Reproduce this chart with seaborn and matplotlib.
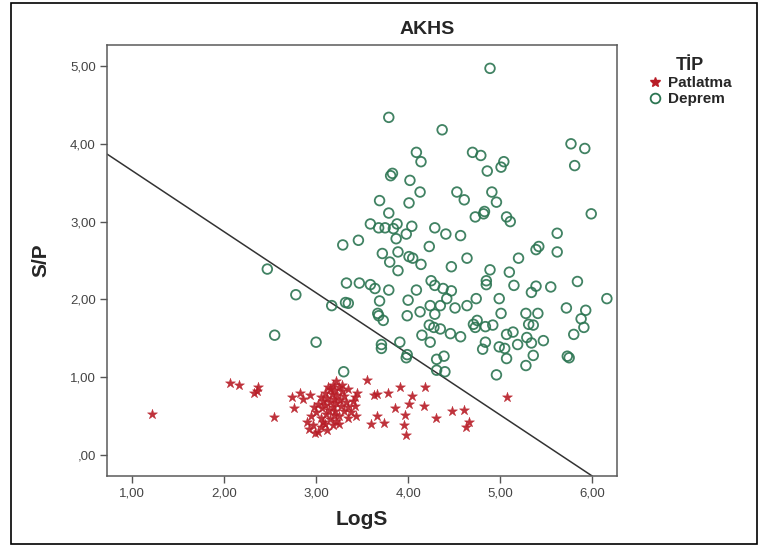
import matplotlib
matplotlib.use("Agg")
import matplotlib.pyplot as plt
from matplotlib.lines import Line2D
from matplotlib.patches import Rectangle
import seaborn as sns
import pandas as pd

# ---------------- data ----------------
deprem_x = [4.89, 3.79, 4.37, 4.09, 4.14, 4.70, 4.79, 5.04, 5.01, 4.86, 5.77, 5.92, 5.81,
            3.81, 3.83, 4.02, 4.13, 3.69, 4.01, 3.79, 4.53, 4.61, 4.91, 4.96, 4.83, 4.82,
            4.73, 5.07, 5.11, 5.99,
            3.59, 3.68, 3.75, 3.88, 3.84, 4.04, 4.29, 4.41, 4.57, 5.62, 3.87, 3.98, 3.29,
            3.46, 4.23, 5.39, 5.42, 5.62, 3.72, 3.89, 4.01, 4.05, 4.64, 3.80, 4.14, 3.89,
            4.47, 5.20, 4.89, 5.10, 2.47, 2.78, 3.17, 3.33, 3.47, 3.59, 3.64, 3.79, 3.32,
            3.35, 3.69, 3.67, 3.68, 3.73, 3.99, 4.00, 4.09, 4.25, 4.29, 4.38, 4.47, 4.42,
            4.35, 4.24, 4.13, 4.29, 4.51, 4.64, 4.74, 4.85, 4.85, 4.99, 5.15, 5.39, 5.34,
            5.55, 5.84, 6.16, 5.01, 5.28, 5.41, 5.72, 5.93, 5.88, 5.91, 5.80, 5.31, 5.36,
            4.92, 4.84, 4.75, 4.71, 4.73, 4.23, 4.28, 4.35, 4.46, 4.57, 4.15, 4.24, 3.91,
            3.71, 3.71, 3.99, 3.98, 4.31, 4.39, 4.31, 4.40, 3.30, 2.55, 3.00, 4.84, 4.99,
            5.05, 5.07, 5.14, 5.19, 5.29, 5.34, 5.47, 4.81, 5.07, 5.36, 5.28, 4.96, 5.73,
            5.75]
deprem_y = [4.97, 4.34, 4.18, 3.89, 3.77, 3.89, 3.85, 3.77, 3.70, 3.65, 4.00, 3.94, 3.72,
            3.59, 3.62, 3.53, 3.38, 3.27, 3.24, 3.11, 3.38, 3.28, 3.38, 3.25, 3.13, 3.10,
            3.06, 3.06, 3.00, 3.10,
            2.97, 2.92, 2.92, 2.97, 2.91, 2.94, 2.92, 2.84, 2.82, 2.85, 2.78, 2.84, 2.70,
            2.76, 2.68, 2.64, 2.68, 2.61, 2.59, 2.61, 2.55, 2.53, 2.53, 2.48, 2.45, 2.37,
            2.42, 2.53, 2.38, 2.35, 2.39, 2.06, 1.92, 2.21, 2.21, 2.19, 2.14, 2.12, 1.96,
            1.95, 1.98, 1.82, 1.79, 1.73, 1.79, 1.99, 2.12, 2.24, 2.18, 2.14, 2.11, 2.01,
            1.92, 1.92, 1.84, 1.81, 1.89, 1.92, 2.01, 2.24, 2.19, 2.01, 2.18, 2.17, 2.09,
            2.16, 2.23, 2.01, 1.82, 1.82, 1.82, 1.89, 1.86, 1.75, 1.64, 1.55, 1.68, 1.67,
            1.67, 1.65, 1.73, 1.68, 1.64, 1.67, 1.64, 1.62, 1.56, 1.52, 1.54, 1.45, 1.45,
            1.42, 1.37, 1.29, 1.25, 1.23, 1.27, 1.09, 1.07, 1.07, 1.54, 1.45, 1.45, 1.39,
            1.37, 1.55, 1.58, 1.42, 1.51, 1.44, 1.47, 1.36, 1.24, 1.28, 1.15, 1.03, 1.27,
            1.25]

patlatma_x = [1.22, 2.06, 2.16, 2.37, 2.32, 2.36, 2.54, 2.74, 2.76, 2.83, 2.86, 2.93, 2.95,
              2.90, 2.92, 2.99, 3.55, 3.91, 4.18, 3.63, 3.66, 3.78, 4.04, 4.01, 4.17, 3.86,
              3.97, 3.66, 3.60, 3.74, 3.96, 3.98, 4.30, 4.48, 4.61, 4.66, 4.63, 5.08, 3.44,
              3.42, 3.43,
              3.22, 3.18, 3.25, 3.15, 3.20, 3.28, 3.10, 3.17, 3.23, 3.30, 3.05, 3.12, 3.19,
              3.26, 3.08, 3.15, 3.22, 3.32, 3.02, 3.10, 3.18, 3.27, 3.35, 3.06, 3.14, 3.21,
              3.30, 3.00, 3.11, 3.19, 3.25, 3.38, 3.05, 3.15, 3.22, 3.35, 3.10, 3.18, 3.05,
              3.12, 2.97, 3.40, 3.42, 2.98, 3.28, 3.13, 3.35, 3.08, 3.02, 3.25]
patlatma_y = [0.53, 0.93, 0.90, 0.88, 0.80, 0.82, 0.49, 0.75, 0.60, 0.80, 0.72, 0.77, 0.50,
              0.42, 0.33, 0.28, 0.97, 0.88, 0.87, 0.77, 0.78, 0.80, 0.76, 0.66, 0.63, 0.60,
              0.51, 0.50, 0.40, 0.41, 0.38, 0.26, 0.48, 0.56, 0.58, 0.43, 0.36, 0.75, 0.80,
              0.63, 0.50,
              0.95, 0.90, 0.88, 0.85, 0.83, 0.82, 0.80, 0.78, 0.77, 0.76, 0.75, 0.73, 0.72,
              0.71, 0.70, 0.68, 0.67, 0.68, 0.66, 0.64, 0.62, 0.63, 0.62, 0.60, 0.58, 0.57,
              0.56, 0.55, 0.53, 0.52, 0.50, 0.55, 0.48, 0.46, 0.44, 0.48, 0.40, 0.38, 0.36,
              0.32, 0.38, 0.70, 0.75, 0.62, 0.90, 0.87, 0.85, 0.43, 0.30, 0.40]

line_x = [0.73, 6.00]
line_intercept = 4.44
line_slope = -0.785

x_ticks = [1, 2, 3, 4, 5, 6]
x_tick_labels = ["1,00", "2,00", "3,00", "4,00", "5,00", "6,00"]
y_ticks = [0, 1, 2, 3, 4, 5]
y_tick_labels = [",00", "1,00", "2,00", "3,00", "4,00", "5,00"]

title = "AKHS"
x_label = "LogS"
y_label = "S/P"
legend_title = "TİP"
series_names = ["Patlatma", "Deprem"]

# ---------------- style ----------------
sns.set_style("white")
plt.rcParams["font.family"] = ["Liberation Sans", "DejaVu Sans"]

green = "#2c7552"
red = "#b81d27"

fig = plt.figure(figsize=(7.6, 5.47), dpi=100)
ax = fig.add_axes([107 / 760, 1 - 476 / 547, 510 / 760, 431 / 547])

df_d = pd.DataFrame({"LogS": deprem_x, "SP": deprem_y})
df_p = pd.DataFrame({"LogS": patlatma_x, "SP": patlatma_y})

sns.scatterplot(data=df_d, x="LogS", y="SP", ax=ax, marker="o", s=48,
                facecolor="none", edgecolor=green, linewidth=1.3, alpha=0.9, zorder=3)
sns.scatterplot(data=df_p, x="LogS", y="SP", ax=ax, marker="*", s=58,
                color=red, edgecolor=red, linewidth=0.3, alpha=0.9, zorder=3)

ly = [line_intercept + line_slope * v for v in line_x]
ax.plot(line_x, ly, color="#333333", lw=1.1, zorder=2)

ax.set_xlim(0.728, 6.27)
ax.set_ylim(-0.27, 5.27)
ax.set_xticks(x_ticks)
ax.set_xticklabels(x_tick_labels)
ax.set_yticks(y_ticks)
ax.set_yticklabels(y_tick_labels)
ax.tick_params(axis="both", which="major", direction="out", length=5, width=1,
               color="#555555", labelsize=9.5, labelcolor="#444444", pad=3,
               bottom=True, left=True)
for sp in ax.spines.values():
    sp.set_color("#5a5a5a")
    sp.set_linewidth(1.1)

ax.set_xlabel(x_label, fontsize=15, fontweight="bold", labelpad=8)
ax.set_ylabel(y_label, fontsize=15, fontweight="bold", labelpad=14)

fig.text(427 / 760, 1 - 30 / 547, title, fontsize=14, fontweight="bold",
         ha="center", va="center")

handles = [
    Line2D([], [], marker="*", linestyle="none", color=red, markersize=7),
    Line2D([], [], marker="o", linestyle="none", markerfacecolor="none",
           markeredgecolor=green, markeredgewidth=1.3, markersize=7),
]
leg = fig.legend(handles, series_names, title=legend_title, loc="upper left",
                 bbox_to_anchor=(637 / 760, 1 - 46 / 547), frameon=False,
                 prop={"weight": "bold", "size": 11},
                 title_fontproperties={"weight": "bold", "size": 13},
                 handletextpad=0.3, handlelength=1.0, labelspacing=0.15,
                 borderpad=0.2)

fig.patches.append(Rectangle((11 / 760, 3 / 547), 746 / 760, 541 / 547,
                             transform=fig.transFigure, fill=False,
                             edgecolor="black", linewidth=1.2))

fig.savefig("out.png", dpi=100)
